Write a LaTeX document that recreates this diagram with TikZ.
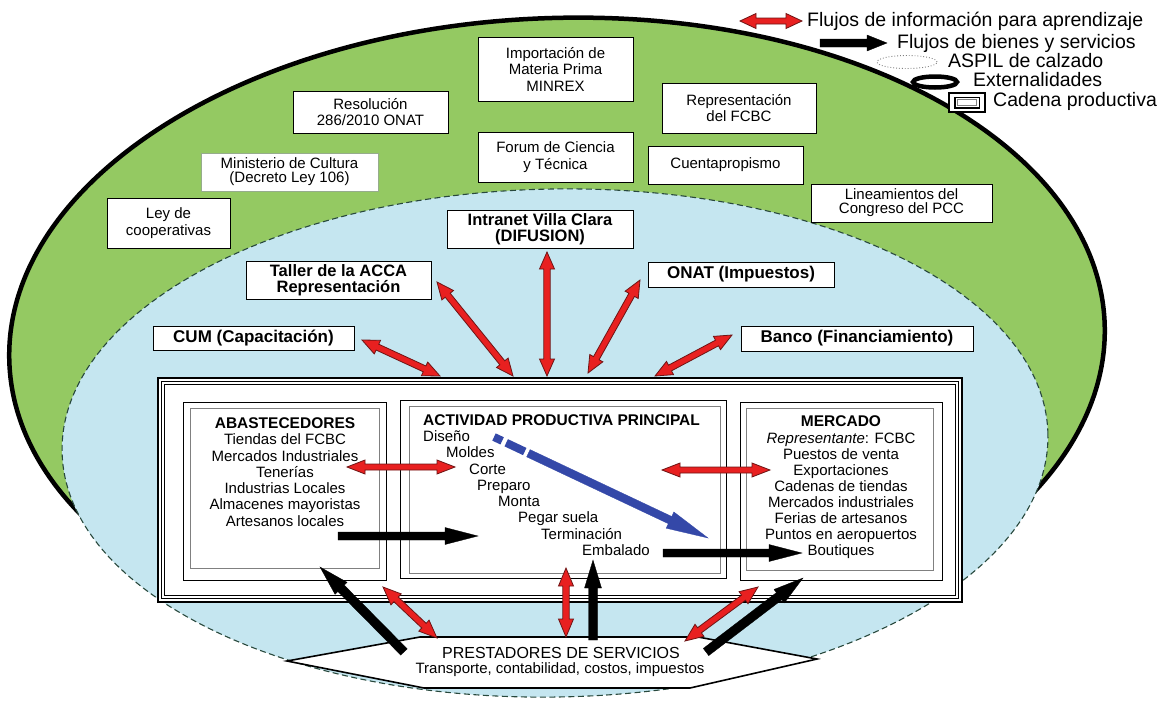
\documentclass[tikz,border=0pt]{standalone}
\usepackage{fontspec}
\setmainfont{Liberation Sans}
\usetikzlibrary{calc}
\definecolor{grn}{RGB}{148,201,98}
\definecolor{lblue}{RGB}{197,230,240}
\definecolor{rfill}{RGB}{232,32,32}
\definecolor{rline}{RGB}{110,20,20}
\definecolor{bluar}{RGB}{52,72,168}
\definecolor{dashc}{RGB}{40,72,60}
\definecolor{minb}{RGB}{150,172,140}
\newcommand\fsz[2]{\fontsize{#1}{#2}\selectfont}
% single fat arrow: style, from, to, half shaft, half head, head length
\newcommand\onearrow[6]{%
  \coordinate (sA) at (#2);
  \coordinate (sB) at (#3);
  \coordinate (sH) at ($(sB)!#6pt!(sA)$);
  \filldraw[#1] ($(sA)!#4pt!90:(sB)$) -- ($(sH)!#4pt!90:(sB)$) -- ($(sH)!#5pt!90:(sB)$) -- (sB)
     -- ($(sH)!#5pt!-90:(sB)$) -- ($(sH)!#4pt!-90:(sB)$) -- ($(sA)!#4pt!-90:(sB)$) -- cycle;
}
% double fat arrow
\newcommand\twoarrow[6]{%
  \coordinate (sA) at (#2);
  \coordinate (sB) at (#3);
  \coordinate (sHa) at ($(sA)!#6pt!(sB)$);
  \coordinate (sHb) at ($(sB)!#6pt!(sA)$);
  \filldraw[#1] (sA) -- ($(sHa)!#5pt!90:(sB)$) -- ($(sHa)!#4pt!90:(sB)$) -- ($(sHb)!#4pt!-90:(sA)$)
     -- ($(sHb)!#5pt!-90:(sA)$) -- (sB) -- ($(sHb)!#5pt!90:(sA)$) -- ($(sHb)!#4pt!90:(sA)$)
     -- ($(sHa)!#4pt!-90:(sB)$) -- ($(sHa)!#5pt!-90:(sB)$) -- cycle;
}
\begin{document}
\begin{tikzpicture}[x=1pt,y=-1pt,
  gbox/.style={draw, fill=white, line width=0.8pt, align=center, inner sep=0pt, font=\fsz{15}{16.5}},
  bbox/.style={draw, fill=white, line width=1pt, align=center, inner sep=0pt, font=\bfseries\fsz{16.5}{15.5}},
  leg/.style={anchor=west, inner sep=0pt, font=\fsz{19.5}{20}, text height=14pt, text depth=4pt},
  stp/.style={anchor=west, inner sep=0pt, font=\fsz{15}{16}, text height=11pt, text depth=3.5pt},
  blk/.style={align=center, inner sep=0pt, font=\fsz{15}{16.3}},
  redarr/.style={fill=rfill, draw=rline, line width=0.8pt, line join=miter},
  blkarr/.style={fill=black, draw=black, line width=0.3pt, line join=miter},
  bluarr/.style={fill=bluar, draw=bluar, line width=0.3pt, line join=miter},
  inbox/.style={draw, line width=0.9pt, fill=white, inner sep=0pt, minimum height=178pt}
]
\useasboundingbox (0,0) rectangle (1165,702);

% ---- regions
\draw[fill=grn, line width=4.5pt, rotate around={2:(557,343)}] (557,343) ellipse [x radius=548pt, y radius=325pt];
\draw[fill=lblue, draw=dashc, line width=1.1pt, dash pattern=on 6pt off 3.5pt, rotate around={1:(555,443)}] (555,443) ellipse [x radius=493pt, y radius=254pt];

% ---- legend
\node[leg] (l1) at (807,21) {Flujos de información para aprendizaje};
\node[leg] (l2) at (897,43) {Flujos de bienes y servicios};
\node[leg] (l3) at (948,62) {ASPIL de calzado};
\node[leg] (l4) at (973,81) {Externalidades};
\node[leg] (l5) at (993,101) {Cadena productiva};
\coordinate (l1a) at (740,21); \coordinate (l1b) at (802,21);
\twoarrow{redarr}{l1a}{l1b}{3}{7.5}{16}
\coordinate (l2a) at (820,43); \coordinate (l2b) at (887,43);
\onearrow{blkarr}{l2a}{l2b}{4}{8}{20}
\draw[gray, dotted, line width=0.9pt, fill=white] (907,62) ellipse [x radius=30pt, y radius=6.5pt];
\draw[line width=4.5pt] (935,82) ellipse [x radius=22pt, y radius=5.5pt];
\node[draw, line width=2.5pt, fill=white, minimum width=36pt, minimum height=19pt, inner sep=0pt] (lcad) at (967,102.5) {};
\draw[line width=1.5pt] ($(lcad.north west)+(7,5.5)$) rectangle ($(lcad.south east)+(-7,-5.5)$);
\draw[gray, line width=0.6pt] ($(lcad.north west)+(9.5,7.5)$) rectangle ($(lcad.south east)+(-9.5,-7.5)$);

% ---- green boxes
\node[gbox, minimum width=155pt, minimum height=64pt] (imp) at (555.5,69) {Importación de\\Materia Prima\\MINREX};
\node[gbox, minimum width=155pt, minimum height=42pt] (res) at (370.5,112) {Resolución\\286/2010 ONAT};
\node[gbox, draw=minb, minimum width=177pt, minimum height=38pt, font=\fsz{15}{14}] (min) at (289.5,172) {Ministerio de Cultura\\(Decreto Ley 106)};
\node[gbox, minimum width=123pt, minimum height=50pt] (ley) at (168.5,223) {Ley de\\cooperativas};
\node[gbox, minimum width=154pt, minimum height=50pt] (rep) at (739,108) {Representación\\del FCBC};
\node[gbox, minimum width=155pt, minimum height=50pt, font=\fsz{15}{17.5}] (for) at (555.5,157) {Forum de Ciencia\\y Técnica};
\node[gbox, minimum width=155pt, minimum height=38pt] (cue) at (725.5,165) {Cuentapropismo};
\node[gbox, minimum width=181pt, minimum height=38pt, font=\fsz{15}{14}] (lin) at (901.5,203) {Lineamientos del\\Congreso del PCC};

% ---- blue boxes
\node[bbox, minimum width=186pt, minimum height=38pt] (intr) at (540,229) {Intranet Villa Clara\\(DIFUSION)};
\node[bbox, minimum width=185pt, minimum height=38pt] (tal) at (338.5,280) {Taller de la ACCA\\Representación};
\node[bbox, minimum width=201pt, minimum height=24pt, font=\bfseries\fsz{17}{17}] (cum) at (253.5,338) {CUM (Capacitación)};
\node[bbox, minimum width=186pt, minimum height=25pt, font=\bfseries\fsz{17}{17}] (onat) at (741,274.5) {ONAT (Impuestos)};
\node[bbox, minimum width=232pt, minimum height=25pt, font=\bfseries\fsz{17}{17}] (ban) at (857,338.5) {Banco (Financiamiento)};

% ---- cadena productiva
\node[draw, line width=2.4pt, fill=white, minimum width=804pt, minimum height=224pt, inner sep=0pt] (cad) at (560,490) {};
\draw[line width=1pt] ($(cad.north west)+(4.5,4.5)$) rectangle ($(cad.south east)+(-4.5,-4.5)$);
\draw[line width=0.8pt] ($(cad.north west)+(7.5,7.5)$) rectangle ($(cad.south east)+(-7.5,-7.5)$);

\node[inbox, minimum width=203pt] (abo) at (284.5,491) {};
\draw[gray, line width=1.1pt] ($(abo.north west)+(8,7)$) rectangle ($(abo.south east)+(-7,-12)$);
\node[inbox, minimum width=326pt] (act) at (563,489) {};
\draw[gray, line width=1.1pt] ($(act.north west)+(10,7)$) rectangle ($(act.south east)+(-6,-5)$);
\node[inbox, minimum width=202pt] (mer) at (841,491) {};
\draw[gray, line width=1.1pt] ($(mer.north west)+(7,7)$) rectangle ($(mer.south east)+(-9,-10)$);

\node[blk] (abt) at (285,472) {{\bfseries\fsz{15.5}{16.3}ABASTECEDORES}\\Tiendas del FCBC\\Mercados Industriales\\Tenerías\\Industrias Locales\\Almacenes mayoristas\\Artesanos locales};
\node[blk, font=\fsz{15}{16.1}] (mert) at (841,487.5) {{\bfseries\fsz{15.5}{16.1}MERCADO}\\\textit{Representante}: FCBC\\Puestos de venta\\Exportaciones\\Cadenas de tiendas\\Mercados industriales\\Ferias de artesanos\\Puntos en aeropuertos\\Boutiques};
\node[stp, font=\bfseries\fsz{15.5}{16}] (actt) at (423,422) {ACTIVIDAD PRODUCTIVA PRINCIPAL};
\node[stp] (s1) at (423,438) {Diseño};
\node[stp] (s2) at (446,454) {Moldes};
\node[stp] (s3) at (469,471) {Corte};
\node[stp] (s4) at (477,487) {Preparo};
\node[stp] (s5) at (498,503) {Monta};
\node[stp] (s6) at (518,519) {Pegar suela};
\node[stp] (s7) at (541,536) {Terminación};
\node[stp] (s8) at (582,552) {Embalado};

% ---- prestadores
\draw[fill=white, line width=1.6pt, line join=miter] (287,661) -- (420,637) -- (698,637) -- (817,659) -- (690,688) -- (424,688) -- cycle;
\node[inner sep=0pt, font=\fsz{16}{17}] (pre) at (561,653) {PRESTADORES DE SERVICIOS};
\node[inner sep=0pt, font=\fsz{15}{16}] (pret) at (560,670) {Transporte, contabilidad, costos, impuestos};

% ---- red information arrows
\coordinate (cumA) at (362,340); \coordinate (cumB) at (440,376);
\twoarrow{redarr}{cumA}{cumB}{3.2}{7.5}{17}
\coordinate (talA) at (437,282); \coordinate (talB) at (513,376);
\twoarrow{redarr}{talA}{talB}{3.2}{7.5}{17}
\coordinate (intA) at (547,252); \coordinate (intB) at (547,376);
\twoarrow{redarr}{intA}{intB}{3.2}{7.5}{17}
\coordinate (onaA) at (640,280); \coordinate (onaB) at (588,373);
\twoarrow{redarr}{onaA}{onaB}{3.2}{7.5}{17}
\coordinate (banA) at (732,335); \coordinate (banB) at (655,376);
\twoarrow{redarr}{banA}{banB}{3.2}{7.5}{17}
\coordinate (aaA) at (347,467); \coordinate (aaB) at (455,467);
\twoarrow{redarr}{aaA}{aaB}{3}{7}{18}
\coordinate (amA) at (662,470); \coordinate (amB) at (770,470);
\twoarrow{redarr}{amA}{amB}{3}{7}{18}
\coordinate (p1A) at (437,638); \coordinate (p1B) at (383,587);
\twoarrow{redarr}{p1A}{p1B}{3.2}{7.5}{18}
\coordinate (p2A) at (566,637); \coordinate (p2B) at (566,568);
\twoarrow{redarr}{p2A}{p2B}{3.2}{7.5}{18}
\coordinate (p3A) at (685,641); \coordinate (p3B) at (758,587);
\twoarrow{redarr}{p3A}{p3B}{3.2}{7.5}{18}

% ---- black goods arrows
\coordinate (g1A) at (338,536); \coordinate (g1B) at (478,536);
\onearrow{blkarr}{g1A}{g1B}{4}{8.5}{33}
\coordinate (g2A) at (663,553); \coordinate (g2B) at (802,553);
\onearrow{blkarr}{g2A}{g2B}{4}{8.5}{33}
\coordinate (g3A) at (404,652); \coordinate (g3B) at (320,567);
\onearrow{blkarr}{g3A}{g3B}{4.5}{8.5}{30}
\coordinate (g4A) at (593,640); \coordinate (g4B) at (593,560);
\onearrow{blkarr}{g4A}{g4B}{4.5}{8.5}{28}
\coordinate (g5A) at (706,652); \coordinate (g5B) at (803,578);
\onearrow{blkarr}{g5A}{g5B}{4.5}{8.5}{30}

% ---- blue process arrow
\coordinate (bS) at (494,437); \coordinate (bE) at (708,538);
\draw[bluar, line width=8pt] (bS) -- ($(bS)!9pt!(bE)$);
\draw[bluar, line width=8pt] ($(bS)!13.5pt!(bE)$) -- ($(bS)!34pt!(bE)$);
\coordinate (bM) at ($(bS)!38pt!(bE)$);
\onearrow{bluarr}{bM}{bE}{4}{9}{42}
\end{tikzpicture}
\end{document}
